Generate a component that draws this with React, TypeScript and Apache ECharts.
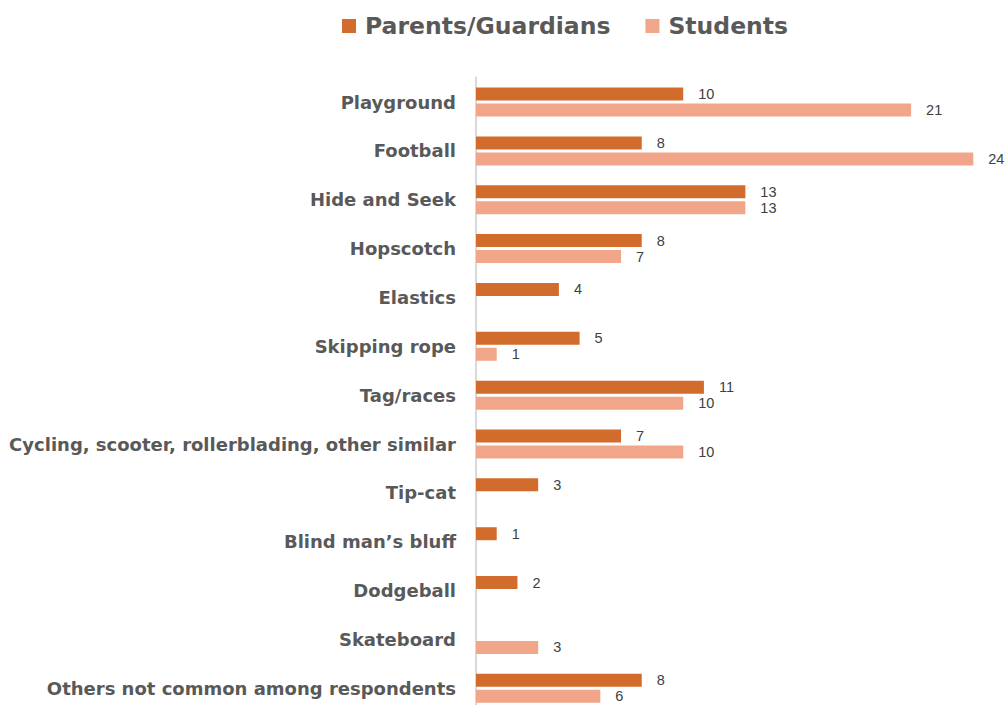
import React, { useEffect, useRef } from "react";
import * as echarts from "echarts";

const categories = [
  "Playground",
  "Football",
  "Hide and Seek",
  "Hopscotch",
  "Elastics",
  "Skipping rope",
  "Tag/races",
  "Cycling, scooter, rollerblading, other similar",
  "Tip-cat",
  "Blind man’s bluff",
  "Dodgeball",
  "Skateboard",
  "Others not common among respondents",
];
const parentsValues = [10, 8, 13, 8, 4, 5, 11, 7, 3, 1, 2, null, 8];
const studentsValues = [21, 24, 13, 7, null, 1, 10, 10, null, null, null, 3, 6];
const seriesNames = ["Parents/Guardians", "Students"];

export default function App() {
  const ref = useRef<HTMLDivElement>(null);
  useEffect(() => {
    if (!ref.current) return;
    const chart = echarts.init(ref.current, null, { renderer: "svg" });
    const labelStyle = {
      show: true,
      position: "right",
      distance: 15,
      color: "#404040",
      fontSize: 14.5,
      fontFamily: "Liberation Sans, Arial, sans-serif",
    };
    chart.setOption({
      animation: false,
      backgroundColor: "#ffffff",
      legend: {
        data: seriesNames,
        left: 337,
        top: 9,
        icon: "rect",
        itemWidth: 14,
        itemHeight: 14,
        itemGap: 35,
        textStyle: {
          color: "#595959",
          fontSize: 23.5,
          fontWeight: "bold",
          fontFamily: "DejaVu Sans, sans-serif",
          padding: [0, 0, 0, 4],
        },
      },
      grid: {
        left: 476,
        right: 14,
        top: 77.6,
        bottom: 7.3,
        containLabel: false,
      },
      xAxis: {
        type: "value",
        min: 0,
        max: 25,
        show: false,
        splitLine: { show: false },
      },
      yAxis: {
        type: "category",
        data: categories,
        inverse: true,
        axisLine: { show: true, lineStyle: { color: "#D9D9D9", width: 2 } },
        axisTick: { show: false },
        axisLabel: {
          margin: 20,
          color: "#595959",
          fontSize: 18,
          fontWeight: "bold",
          fontFamily: "DejaVu Sans, sans-serif",
        },
      },
      series: [
        {
          name: seriesNames[0],
          type: "bar",
          data: parentsValues,
          barWidth: 13,
          barGap: "23%",
          itemStyle: { color: "#D26C2C" },
          label: labelStyle,
        },
        {
          name: seriesNames[1],
          type: "bar",
          data: studentsValues,
          barWidth: 13,
          barGap: "23%",
          itemStyle: { color: "#F1A689" },
          label: labelStyle,
        },
      ],
    });
    return () => chart.dispose();
  }, []);
  return (
    <div
      style={{
        position: "absolute",
        left: 0,
        top: 0,
        width: 1008,
        height: 705,
        overflow: "hidden",
      }}
    >
      <div ref={ref} style={{ width: 1008, height: 720 }} />
    </div>
  );
}
